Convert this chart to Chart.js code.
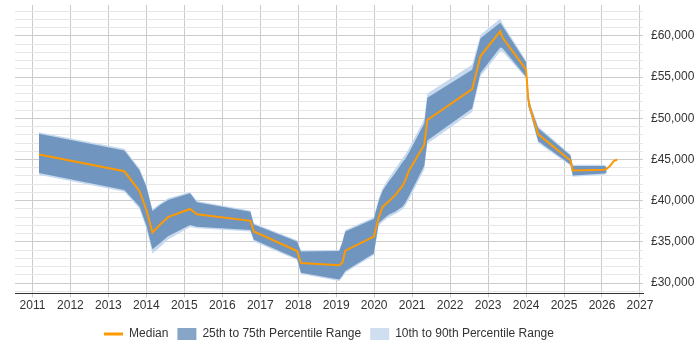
<!DOCTYPE html>
<html>
<head>
<meta charset="utf-8">
<script src="https://cdn.jsdelivr.net/npm/chart.js@4.4.1/dist/chart.umd.min.js"></script>
<style>
  html, body { margin: 0; padding: 0; background: #fff; }
  #wrap { width: 700px; height: 350px; position: relative; }
</style>
</head>
<body>
<div id="wrap"><canvas id="myChart"></canvas></div>
<script>
const years = [2011.17, 2013.42, 2013.82, 2014.00, 2014.16, 2014.37, 2014.57, 2015.15, 2015.33, 2016.74,
  2016.83, 2017.97, 2018.07, 2019.08, 2019.16, 2019.24, 2019.99, 2020.12, 2020.22, 2020.38,
  2020.56, 2020.75, 2020.82, 2020.91, 2021.32, 2021.40, 2022.58, 2022.80, 2023.32, 2023.38,
  2024.00, 2024.06, 2024.12, 2024.32, 2025.17, 2025.23, 2026.05, 2026.12, 2026.21, 2026.31, 2026.40];

const median = [45600, 43570, 41150, 38900, 36150, 37150, 38000, 39000, 38350, 37560,
  36260, 33900, 32440, 32160, 32480, 33940, 35650, 37960, 39250, 39900,
  40700, 41830, 42500, 43600, 46800, 49800, 53540, 57560, 60550, 59800,
  55900, 52200, 51000, 48050, 44880, 43660, 43750, 43850, 44200, 44800, 45000];

const p75 = [48130, 46100, 43700, 41700, 38750, 39500, 40100, 40900, 39800, 38650,
  37100, 35040, 33820, 33900, 34900, 36250, 37770, 40000, 41200, 42300,
  43400, 44700, 45100, 45800, 49400, 52500, 55900, 59700, 61600, 61200,
  56800, 52800, 51400, 48800, 45500, 44200, 44200, 44100, null, null, null];

const p25 = [43350, 41300, 39300, 37000, 34100, 34900, 35700, 37050, 36850, 36450,
  35250, 32960, 31260, 30450, 30900, 31460, 33600, 37300, 37700, 38300,
  38700, 39300, 39750, 40500, 44250, 47300, 51180, 55500, 58600, 58500,
  55050, 51500, 50600, 47200, 44400, 43050, 43300, 43400, null, null, null];

const p90 = [48300, 46300, 43900, 41900, 38950, 39700, 40300, 41050, 39950, 38800,
  37250, 35200, 33950, 34050, 35100, 36450, 38000, 40300, 41500, 42700,
  43900, 45200, 45600, 46300, 49900, 53000, 56500, 60100, 62100, 61500,
  57000, 53000, 51600, 49000, 45650, 44350, 44350, 44250, null, null, null];

const p10 = [43150, 41100, 39000, 36600, 33600, 34400, 35300, 36800, 36650, 36250,
  35050, 32800, 31100, 30250, 30700, 31250, 33400, 37000, 37400, 38000,
  38400, 38950, 39400, 40100, 43800, 46900, 50750, 55100, 58100, 58100,
  54850, 51300, 50400, 47000, 44250, 42900, 43150, 43250, null, null, null];

const xTickYears = [2011, 2012, 2013, 2014, 2015, 2016, 2017, 2018, 2019,
  2020, 2021, 2022, 2023, 2024, 2025, 2026, 2027];
const yLabelValues = [30000, 35000, 40000, 45000, 50000, 55000, 60000];

const orange = '#ff9900';
const font = { family: '"Liberation Sans", Arial, sans-serif', size: 12 };

const toPoints = (values) => years
  .map((x, i) => ({ x: x, y: values[i] }))
  .filter((p) => p.y !== null);

const band = (values, fillTo, colour) => ({
  data: toPoints(values),
  borderColor: 'transparent',
  borderWidth: 0,
  backgroundColor: colour,
  pointRadius: 0,
  tension: 0,
  fill: fillTo,
});

const legendItems = [
  { text: 'Median', pointStyle: 'line', strokeStyle: orange, fillStyle: orange, lineWidth: 3 },
  { text: '25th to 75th Percentile Range', pointStyle: 'rect', strokeStyle: 'transparent', fillStyle: '#87a5c6', lineWidth: 0 },
  { text: '10th to 90th Percentile Range', pointStyle: 'rect', strokeStyle: 'transparent', fillStyle: '#cfdff0', lineWidth: 0 },
];

// centre the legend under the plot area rather than the whole canvas
const legendUnderPlot = {
  id: 'legendUnderPlot',
  afterLayout: (chart) => {
    chart.legend.left = chart.chartArea.left;
    chart.legend.right = chart.chartArea.right;
  },
};

const ctx = document.getElementById('myChart').getContext('2d');
const myChart = new Chart(ctx, {
  type: 'line',
  data: {
    datasets: [
      {
        label: 'Median',
        data: toPoints(median),
        borderColor: orange,
        borderWidth: 2,
        pointRadius: 0,
        tension: 0,
        fill: false,
      },
      band(p75, 2, '#7096c0'),
      band(p25, false, 'transparent'),
      band(p90, 4, '#c6d9ee'),
      band(p10, false, 'transparent'),
    ],
  },
  plugins: [legendUnderPlot],
  options: {
    animation: false,
    responsive: true,
    maintainAspectRatio: false,
    layout: { padding: { left: 15, top: 5, right: 0, bottom: 0 } },
    plugins: {
      tooltip: { enabled: false },
      legend: {
        position: 'bottom',
        onClick: () => {},
        labels: {
          usePointStyle: true,
          pointStyleWidth: 19,
          boxHeight: 12,
          padding: 9,
          color: '#333',
          font: font,
          generateLabels: () => legendItems.map((item) => Object.assign({ fontColor: '#333' }, item)),
        },
      },
    },
    scales: {
      x: {
        type: 'linear',
        min: 2010.54,
        max: 2027.08,
        afterBuildTicks: (axis) => {
          axis.ticks = xTickYears.map((v) => ({ value: v }));
        },
        afterFit: (axis) => {
          axis.height = 25.6;
          axis.paddingLeft = 0;
          axis.paddingRight = 0;
        },
        ticks: {
          autoSkip: false,
          maxRotation: 0,
          padding: 1,
          color: '#333',
          font: font,
          callback: (v) => String(v),
        },
        grid: { color: '#cccccc', tickLength: 4 },
        border: { color: '#333', width: 1 },
      },
      y: {
        position: 'right',
        min: 28750,
        max: 63750,
        afterBuildTicks: (axis) => {
          const ticks = [];
          for (let v = 29000; v <= 63000; v += 1000) ticks.push({ value: v });
          axis.ticks = ticks;
        },
        afterFit: (axis) => {
          axis.width = 57;
          axis.paddingTop = 0;
          axis.paddingBottom = 0;
        },
        ticks: {
          autoSkip: false,
          padding: 8,
          color: '#333',
          font: font,
          callback: (v) => (yLabelValues.includes(v) ? '£' + v.toLocaleString('en-GB') : ''),
        },
        grid: {
          drawTicks: false,
          color: (c) => (c.tick && yLabelValues.includes(c.tick.value) ? '#cccccc' : '#e6e6e6'),
        },
        border: { display: false },
      },
    },
  },
});
</script>
</body>
</html>
